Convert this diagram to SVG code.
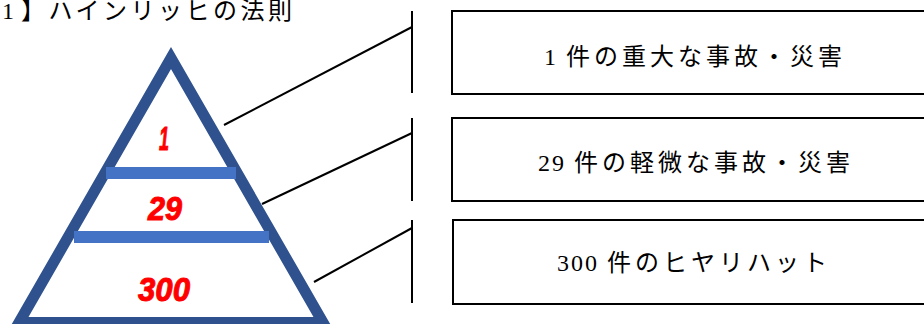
<svg xmlns="http://www.w3.org/2000/svg" width="924" height="324" viewBox="0 0 924 324">
<style>
.box{fill:#fff;stroke:#000;stroke-width:2}
.lbl{font-family:"Liberation Serif","Noto Sans CJK JP",serif;font-size:24px;fill:#000;letter-spacing:4px}
.dg{letter-spacing:2px}
.num{font-family:"Liberation Sans","DejaVu Sans",sans-serif;font-weight:bold;font-style:italic;font-size:33px;fill:#ff0000;stroke:#ff0000;stroke-width:1;text-anchor:middle}
.bar{fill:#4472C4}
.conn line{stroke:#000;stroke-width:2}
</style>
<rect width="924" height="324" fill="#fff"/>
<text id="title" class="lbl" x="2" y="19" style="letter-spacing:3.5px"><tspan>1</tspan><tspan x="21">】ハインリッヒの法則</tspan></text>
<g id="pyramid">
<polygon points="171,58 19,322.5 323,322.5" fill="#fff" stroke="#2F528F" stroke-width="11" stroke-linejoin="miter" stroke-miterlimit="10"/>
<rect class="bar" x="106" y="167" width="130" height="12"/>
<rect class="bar" x="74" y="231" width="195" height="12"/>
<text class="num" x="164" y="150" textLength="10" lengthAdjust="spacingAndGlyphs">1</text>
<text class="num" x="165" y="220" textLength="34" lengthAdjust="spacingAndGlyphs">29</text>
<text class="num" x="164" y="301" textLength="52" lengthAdjust="spacingAndGlyphs">300</text>
</g>
<g id="conn" class="conn">
<line x1="412" y1="11" x2="412" y2="93"/>
<line x1="224" y1="125" x2="412" y2="27"/>
<line x1="412" y1="118" x2="412" y2="201"/>
<line x1="262" y1="204" x2="412" y2="133"/>
<line x1="412" y1="220" x2="412" y2="303"/>
<line x1="314" y1="282" x2="412" y2="228"/>
</g>
<g id="box1">
<rect class="box" x="452" y="11" width="484" height="83"/>
<text class="lbl" x="695" y="65" text-anchor="middle"><tspan class="dg">1 </tspan>件の重大な事故・災害</text>
</g>
<g id="box2">
<rect class="box" x="452" y="118" width="484" height="83"/>
<text class="lbl" x="696" y="171" text-anchor="middle"><tspan class="dg">29 </tspan>件の軽微な事故・災害</text>
</g>
<g id="box3">
<rect class="box" x="453" y="220" width="484" height="84"/>
<text class="lbl" x="694" y="271" text-anchor="middle"><tspan class="dg">300 </tspan>件のヒヤリハット</text>
</g>
</svg>
